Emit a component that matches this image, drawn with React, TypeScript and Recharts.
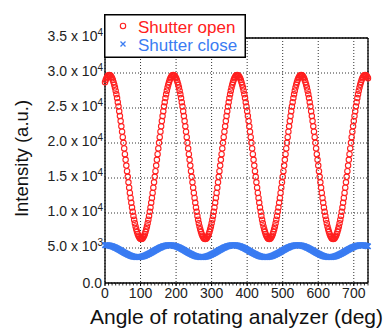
import React from "react";
import {
    ScatterChart, Scatter, XAxis, YAxis, CartesianGrid, ReferenceLine, Legend, Label
} from "recharts";

// analyzer angle, sampled every 2 deg
const angles = Array.from({ length: 371 }, (_, i) => i * 2);

// intensity with shutter open (red circles)
const shutterOpen = [
    28690, 28990, 29250, 29440, 29590, 29670,
    // 12 - 190
    29700, 29670, 29590, 29440, 29250, 28990, 28690, 28330, 27920, 27470, 26960, 26420, 25830, 25200, 24540, 23850, 23130, 22380, 21620, 20830, 20030, 19220, 18410, 17590, 16780, 15970, 15170, 14380, 13620, 12870, 12150, 11460, 10800, 10170, 9580, 9040, 8540, 8080, 7670, 7310, 7010, 6750, 6560, 6410, 6330, 6300,
    6330, 6410, 6560, 6750, 7010, 7310, 7670, 8080, 8540, 9040, 9580, 10170, 10800, 11460, 12150, 12870, 13620, 14380, 15170, 15970, 16780, 17590, 18410, 19220, 20030, 20830, 21620, 22380, 23130, 23850, 24540, 25200, 25830, 26420, 26960, 27470, 27920, 28330, 28690, 28990, 29250, 29440, 29590, 29670,
    // 192 - 370
    29700, 29670, 29590, 29440, 29250, 28990, 28690, 28330, 27920, 27470, 26960, 26420, 25830, 25200, 24540, 23850, 23130, 22380, 21620, 20830, 20030, 19220, 18410, 17590, 16780, 15970, 15170, 14380, 13620, 12870, 12150, 11460, 10800, 10170, 9580, 9040, 8540, 8080, 7670, 7310, 7010, 6750, 6560, 6410, 6330, 6300,
    6330, 6410, 6560, 6750, 7010, 7310, 7670, 8080, 8540, 9040, 9580, 10170, 10800, 11460, 12150, 12870, 13620, 14380, 15170, 15970, 16780, 17590, 18410, 19220, 20030, 20830, 21620, 22380, 23130, 23850, 24540, 25200, 25830, 26420, 26960, 27470, 27920, 28330, 28690, 28990, 29250, 29440, 29590, 29670,
    // 372 - 550
    29700, 29670, 29590, 29440, 29250, 28990, 28690, 28330, 27920, 27470, 26960, 26420, 25830, 25200, 24540, 23850, 23130, 22380, 21620, 20830, 20030, 19220, 18410, 17590, 16780, 15970, 15170, 14380, 13620, 12870, 12150, 11460, 10800, 10170, 9580, 9040, 8540, 8080, 7670, 7310, 7010, 6750, 6560, 6410, 6330, 6300,
    6330, 6410, 6560, 6750, 7010, 7310, 7670, 8080, 8540, 9040, 9580, 10170, 10800, 11460, 12150, 12870, 13620, 14380, 15170, 15970, 16780, 17590, 18410, 19220, 20030, 20830, 21620, 22380, 23130, 23850, 24540, 25200, 25830, 26420, 26960, 27470, 27920, 28330, 28690, 28990, 29250, 29440, 29590, 29670,
    // 552 - 730
    29700, 29670, 29590, 29440, 29250, 28990, 28690, 28330, 27920, 27470, 26960, 26420, 25830, 25200, 24540, 23850, 23130, 22380, 21620, 20830, 20030, 19220, 18410, 17590, 16780, 15970, 15170, 14380, 13620, 12870, 12150, 11460, 10800, 10170, 9580, 9040, 8540, 8080, 7670, 7310, 7010, 6750, 6560, 6410, 6330, 6300,
    6330, 6410, 6560, 6750, 7010, 7310, 7670, 8080, 8540, 9040, 9580, 10170, 10800, 11460, 12150, 12870, 13620, 14380, 15170, 15970, 16780, 17590, 18410, 19220, 20030, 20830, 21620, 22380, 23130, 23850, 24540, 25200, 25830, 26420, 26960, 27470, 27920, 28330, 28690, 28990, 29250, 29440, 29590, 29670,
    29700, 29670, 29590, 29440, 29250,
];

// intensity with shutter closed (blue crosses)
const shutterClose = [
    5400,
    // 2 - 180
    5400, 5400, 5390, 5380, 5370, 5350, 5330, 5300, 5270, 5240, 5200, 5160, 5120, 5070, 5030, 4980, 4920, 4870, 4810, 4760, 4700, 4640, 4580, 4520, 4460, 4400, 4340, 4290, 4230, 4180, 4130, 4080, 4030, 3980, 3940, 3900, 3860, 3830, 3800, 3770, 3750, 3730, 3720, 3710, 3700, 3700,
    3700, 3710, 3720, 3730, 3750, 3770, 3800, 3830, 3860, 3900, 3940, 3980, 4030, 4080, 4130, 4180, 4230, 4290, 4340, 4400, 4460, 4520, 4580, 4640, 4700, 4760, 4810, 4870, 4920, 4980, 5030, 5070, 5120, 5160, 5200, 5240, 5270, 5300, 5330, 5350, 5370, 5380, 5390, 5400,
    // 182 - 360
    5400, 5400, 5390, 5380, 5370, 5350, 5330, 5300, 5270, 5240, 5200, 5160, 5120, 5070, 5030, 4980, 4920, 4870, 4810, 4760, 4700, 4640, 4580, 4520, 4460, 4400, 4340, 4290, 4230, 4180, 4130, 4080, 4030, 3980, 3940, 3900, 3860, 3830, 3800, 3770, 3750, 3730, 3720, 3710, 3700, 3700,
    3700, 3710, 3720, 3730, 3750, 3770, 3800, 3830, 3860, 3900, 3940, 3980, 4030, 4080, 4130, 4180, 4230, 4290, 4340, 4400, 4460, 4520, 4580, 4640, 4700, 4760, 4810, 4870, 4920, 4980, 5030, 5070, 5120, 5160, 5200, 5240, 5270, 5300, 5330, 5350, 5370, 5380, 5390, 5400,
    // 362 - 540
    5400, 5400, 5390, 5380, 5370, 5350, 5330, 5300, 5270, 5240, 5200, 5160, 5120, 5070, 5030, 4980, 4920, 4870, 4810, 4760, 4700, 4640, 4580, 4520, 4460, 4400, 4340, 4290, 4230, 4180, 4130, 4080, 4030, 3980, 3940, 3900, 3860, 3830, 3800, 3770, 3750, 3730, 3720, 3710, 3700, 3700,
    3700, 3710, 3720, 3730, 3750, 3770, 3800, 3830, 3860, 3900, 3940, 3980, 4030, 4080, 4130, 4180, 4230, 4290, 4340, 4400, 4460, 4520, 4580, 4640, 4700, 4760, 4810, 4870, 4920, 4980, 5030, 5070, 5120, 5160, 5200, 5240, 5270, 5300, 5330, 5350, 5370, 5380, 5390, 5400,
    // 542 - 720
    5400, 5400, 5390, 5380, 5370, 5350, 5330, 5300, 5270, 5240, 5200, 5160, 5120, 5070, 5030, 4980, 4920, 4870, 4810, 4760, 4700, 4640, 4580, 4520, 4460, 4400, 4340, 4290, 4230, 4180, 4130, 4080, 4030, 3980, 3940, 3900, 3860, 3830, 3800, 3770, 3750, 3730, 3720, 3710, 3700, 3700,
    3700, 3710, 3720, 3730, 3750, 3770, 3800, 3830, 3860, 3900, 3940, 3980, 4030, 4080, 4130, 4180, 4230, 4290, 4340, 4400, 4460, 4520, 4580, 4640, 4700, 4760, 4810, 4870, 4920, 4980, 5030, 5070, 5120, 5160, 5200, 5240, 5270, 5300, 5330, 5350, 5370, 5380, 5390, 5400,
    5400, 5400, 5390, 5380, 5370, 5350, 5330, 5300, 5270, 5240,
];

const xTicks = [0, 100, 200, 300, 400, 500, 600, 700];
const minorTicks = Array.from({ length: 75 }, (_, i) => i * 10);
const yTicks = [0, 5000, 10000, 15000, 20000, 25000, 30000, 35000];
const yTickMantissas = ["0.0", "5.0", "1.0", "1.5", "2.0", "2.5", "3.0", "3.5"];
const yTickExponents = ["", "3", "4", "4", "4", "4", "4", "4"];

const RED = "#ff2020";
const BLUE = "#3a7cf2";
const FONT = '"Liberation Sans", Arial, sans-serif';

const openData = angles.map((x, i) => ({ x, y: shutterOpen[i] }));
const closeData = angles.map((x, i) => ({ x, y: shutterClose[i] }));
const minorData = minorTicks.map(x => ({ x, y: 0 }));

// eslint-disable-next-line @typescript-eslint/no-explicit-any
const OpenCircle = (p: any) => (
    <circle cx={p.cx} cy={p.cy} r={2.7} fill="none" stroke={RED} strokeWidth={1.1} />
);

// eslint-disable-next-line @typescript-eslint/no-explicit-any
const Cross = (p: any) => (
    <path
        d={`M${p.cx - 2.7} ${p.cy - 2.7} L${p.cx + 2.7} ${p.cy + 2.7} M${p.cx + 2.7} ${p.cy - 2.7} L${p.cx - 2.7} ${p.cy + 2.7}`}
        stroke={BLUE}
        strokeWidth={1.5}
        fill="none"
    />
);

// eslint-disable-next-line @typescript-eslint/no-explicit-any
const MinorTick = (p: any) => (
    <line x1={p.cx} x2={p.cx} y1={p.cy} y2={p.cy + 2.5} stroke="#000" strokeWidth={0.8} />
);

// eslint-disable-next-line @typescript-eslint/no-explicit-any
function XTick({ x, y, payload }: any) {
    return (
        <g>
            <line x1={x} x2={x} y1={y} y2={y + 3} stroke="#000" strokeWidth={1} />
            <text x={x} y={y + 15} textAnchor="middle" fontSize={14} fill="#222" fontFamily={FONT}>
                {payload.value}
            </text>
        </g>
    );
}

// eslint-disable-next-line @typescript-eslint/no-explicit-any
function YTick({ x, y, payload }: any) {
    const i = yTicks.indexOf(payload.value);
    const exp = yTickExponents[i];
    if (!exp) {
        return (
            <text x={x - 3} y={y + 5} textAnchor="end" fontSize={14} fill="#222" fontFamily={FONT}>
                {yTickMantissas[i]}
            </text>
        );
    }
    return (
        <text x={x - 2} y={y + 3} textAnchor="end" fontSize={14} fill="#222" fontFamily={FONT}>
            <tspan>{yTickMantissas[i]} x 10</tspan>
            <tspan dy={-5} fontSize={10}>{exp}</tspan>
        </text>
    );
}

function LegendBox() {
    return (
        <svg width={142} height={44} style={{ display: "block" }}>
            <rect x={0.75} y={0.75} width={140.5} height={42.5} fill="#fff" stroke="#000" strokeWidth={1.5} />
            <circle cx={19} cy={12} r={2.7} fill="none" stroke={RED} strokeWidth={1.1} />
            <text x={34} y={18.5} fill={RED} fontSize={17} fontFamily={FONT}>Shutter open</text>
            <path d="M16.5 27.5 L21.5 32.5 M21.5 27.5 L16.5 32.5" stroke={BLUE} strokeWidth={1.3} />
            <text x={34} y={37} fill={BLUE} fontSize={17} fontFamily={FONT}>Shutter close</text>
        </svg>
    );
}

export default function App() {
    return (
        <div style={{ position: "absolute", left: 0, top: 0, width: 388, height: 329, background: "#fff" }}>
            <ScatterChart width={388} height={329} margin={{ top: 38, right: 20, bottom: 0, left: 0 }}>
                <CartesianGrid stroke="#333" strokeDasharray="1 2" />
                <XAxis
                    type="number"
                    dataKey="x"
                    domain={[0, 740]}
                    ticks={xTicks}
                    height={46}
                    tickSize={0}
                    tickMargin={0}
                    tick={<XTick />}
                    axisLine={{ stroke: "#000", strokeWidth: 1.3 }}
                >
                    <Label
                        // eslint-disable-next-line @typescript-eslint/no-explicit-any
                        content={(props: any) => {
                            const vb = props.viewBox;
                            return (
                                <text x={vb.x + vb.width / 2} y={vb.y + 41} textAnchor="middle" fontSize={21} fill="#111" fontFamily={FONT}>
                                    Angle of rotating analyzer (deg)
                                </text>
                            );
                        }}
                    />
                </XAxis>
                <YAxis
                    type="number"
                    dataKey="y"
                    domain={[0, 35000]}
                    ticks={yTicks}
                    width={105}
                    tickSize={0}
                    tickMargin={0}
                    tick={<YTick />}
                    axisLine={{ stroke: "#000", strokeWidth: 1.3 }}
                >
                    <Label
                        // eslint-disable-next-line @typescript-eslint/no-explicit-any
                        content={(props: any) => {
                            const vb = props.viewBox;
                            const cy = vb.y + vb.height / 2 - 2;
                            return (
                                <text x={28} y={cy} transform={`rotate(-90 28 ${cy})`} textAnchor="middle" fontSize={18.5} fill="#111" fontFamily={FONT}>
                                    Intensity (a.u.)
                                </text>
                            );
                        }}
                    />
                </YAxis>
                <Scatter name="minor" data={minorData} shape={MinorTick} isAnimationActive={false} legendType="none" />
                <Scatter name="Shutter close" data={closeData} shape={Cross} isAnimationActive={false} />
                <Scatter name="Shutter open" data={openData} shape={OpenCircle} isAnimationActive={false} />
                <ReferenceLine y={35000} stroke="#000" strokeWidth={1.3} />
                <ReferenceLine x={740} stroke="#000" strokeWidth={1.3} />
                <Legend
                    layout="horizontal"
                    verticalAlign="middle"
                    align="center"
                    content={() => <LegendBox />}
                    wrapperStyle={{ position: "absolute", left: 104, top: 14, width: 142, height: 44 }}
                />
            </ScatterChart>
        </div>
    );
}
